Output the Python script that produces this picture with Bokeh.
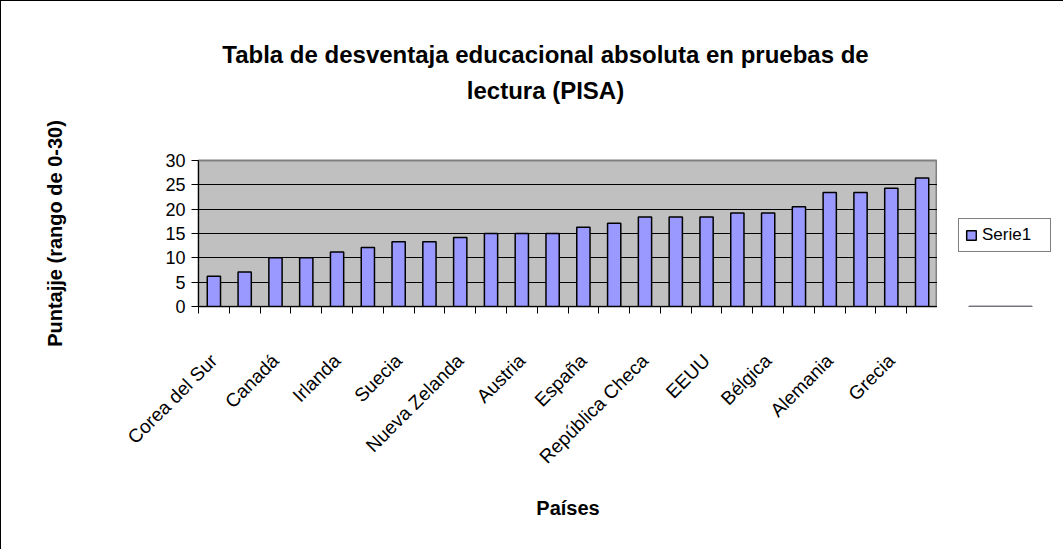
from bokeh.plotting import figure
from bokeh.layouts import column, row
from bokeh.models import FixedTicker, Legend, LegendItem, ColumnDataSource
from bokeh.core.properties import value
from bokeh.embed import file_html
from bokeh.resources import INLINE
from math import pi

# ---- data ----
paises_etiquetas = ["Corea del Sur", "Canadá", "Irlanda", "Suecia", "Nueva Zelanda",
                    "Austria", "España", "República Checa", "EEUU", "Bélgica",
                    "Alemania", "Grecia"]
valores = [6.2, 7.1, 10, 10, 11.2, 12.1, 13.3, 13.3, 14.2, 15, 15, 15,
           16.3, 17.1, 18.4, 18.4, 18.4, 19.2, 19.2, 20.5, 23.4, 23.4, 24.3, 26.4]
y_ticks = [0, 5, 10, 15, 20, 25, 30]
serie = "Serie1"
titulo = ["Tabla de desventaja educacional absoluta en pruebas de", "lectura (PISA)"]
eje_y = "Puntajje (rango de 0-30)"
eje_x = "Países"

FONT = "Liberation Sans"
BAR_FILL = "#9999FF"

n = len(valores)
xs = [i + 0.5 for i in range(n)]
src = ColumnDataSource(dict(x=xs, top=valores))

TOP_H = 106
MAIN_TOP = 53
W_LEFT = 197
FRAME_W = 739
FRAME_H = 146
BOTTOM = 243
W_RIGHT = 126
MAIN_H = MAIN_TOP + FRAME_H + BOTTOM
TOTAL_W = W_LEFT + FRAME_W + W_RIGHT

# ---- title strip ----
t = figure(width=TOTAL_W, height=TOP_H,
           x_range=(0, TOTAL_W), y_range=(TOP_H, 0),
           x_axis_type=None, y_axis_type=None, min_border=0,
           output_backend="svg", toolbar_location=None)
t.title = None
t.grid.visible = False
t.outline_line_color = None
t.background_fill_color = "white"
t.border_fill_color = "white"
t.text(x=[544, 544], y=[53, 89], text=titulo, text_align="center",
       text_baseline="alphabetic", text_color="black",
       text_font=value(FONT), text_font_size="24px", text_font_style="bold")

# ---- main chart ----
p = figure(frame_width=FRAME_W, frame_height=FRAME_H, x_range=(0, n), y_range=(0, 30),
           output_backend="svg", toolbar_location=None,
           min_border_left=W_LEFT, min_border_right=0,
           min_border_top=MAIN_TOP, min_border_bottom=BOTTOM)
p.title = None
p.background_fill_color = "#C0C0C0"
p.border_fill_color = "white"
p.outline_line_color = "#808080"
p.outline_line_width = 2

p.vbar(x="x", top="top", width=0.43, source=src,
       fill_color=BAR_FILL, line_color="black", line_width=1.5)

label_ticks = [xs[2 * i] for i in range(len(paises_etiquetas))]
xa = p.xaxis[0]
xa.ticker = FixedTicker(ticks=label_ticks, minor_ticks=list(range(n + 1)))
xa.major_label_overrides = {tk: lab for tk, lab in zip(label_ticks, paises_etiquetas)}
xa.major_label_orientation = pi / 4
xa.major_tick_line_color = None
xa.major_tick_out = 0
xa.major_tick_in = 0
xa.minor_tick_line_color = "black"
xa.minor_tick_out = 7
xa.minor_tick_in = 0
xa.major_label_standoff = 44
xa.major_label_text_font = FONT
xa.major_label_text_font_size = "19px"
xa.major_label_text_color = "black"
xa.axis_line_color = "black"
xa.axis_label = eje_x
xa.axis_label_text_color = "black"
xa.axis_label_text_font = FONT
xa.axis_label_text_font_size = "20px"
xa.axis_label_text_font_style = "bold"
xa.axis_label_standoff = 19

ya = p.yaxis[0]
ya.ticker = FixedTicker(ticks=y_ticks)
ya.major_tick_out = 7
ya.major_tick_in = 0
ya.major_tick_line_color = "black"
ya.minor_tick_line_color = None
ya.major_label_standoff = 6
ya.major_label_text_font = FONT
ya.major_label_text_font_size = "18px"
ya.major_label_text_color = "black"
ya.axis_line_color = "black"
ya.axis_label = eje_y
ya.axis_label_text_color = "black"
ya.axis_label_text_font = FONT
ya.axis_label_text_font_size = "20px"
ya.axis_label_text_font_style = "bold"
ya.axis_label_standoff = 96

p.xgrid.grid_line_color = None
p.ygrid.ticker = FixedTicker(ticks=y_ticks)
p.ygrid.grid_line_color = "black"
p.ygrid.grid_line_width = 1

# ---- legend strip (frames of a row are aligned with the chart frame) ----
q = figure(width=W_RIGHT, height=MAIN_H, x_range=(0, 1), y_range=(0, 1),
           x_axis_type=None, y_axis_type=None,
           min_border_left=0, min_border_right=0,
           min_border_top=MAIN_TOP, min_border_bottom=BOTTOM,
           output_backend="svg", toolbar_location=None)
q.title = None
q.grid.visible = False
q.outline_line_color = None
q.background_fill_color = "white"
q.border_fill_color = "white"
# swatch renderer for the legend (kept entirely outside the visible range)
swatch = q.vbar(x=[0.5], bottom=[-3], top=[-2], width=0.5, fill_color=BAR_FILL,
                line_color="black", line_width=1.5)
legend = Legend(items=[LegendItem(label=serie, renderers=[swatch])],
                location=(21, 54), margin=0, padding=6,
                glyph_width=12, glyph_height=12, label_height=12,
                label_standoff=5, label_width=62,
                border_line_color="black", border_line_width=1,
                background_fill_color="white", background_fill_alpha=1)
legend.label_text_font = FONT
legend.label_text_font_size = "17px"
legend.label_text_color = "black"
q.add_layout(legend)

layout = column(t, row(p, q, spacing=0), spacing=0,
                styles={"border-top": "1px solid black", "border-left": "1px solid black"})

open("out.html", "w").write(file_html(layout, INLINE))
